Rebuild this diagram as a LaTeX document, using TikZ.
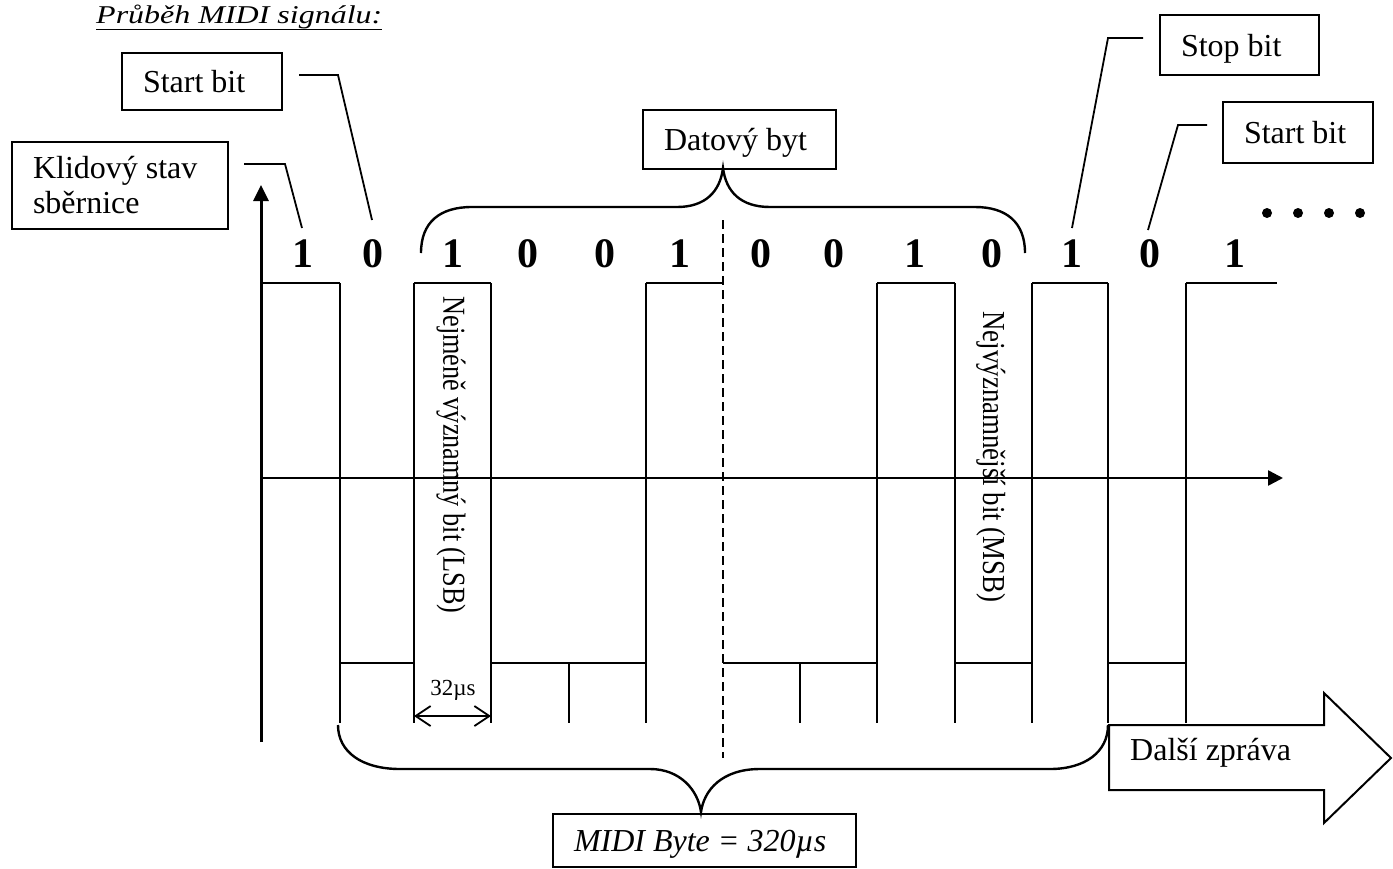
\documentclass[tikz,border=0pt]{standalone}
\usepackage{graphicx}
\usepackage{fontspec}
\setmainfont{Liberation Serif}
\usetikzlibrary{arrows.meta,calc}
\newcommand{\normsp}{\spaceskip=0pt\xspaceskip=0pt\relax}
\begin{document}
\begin{tikzpicture}[x=1pt,y=-1pt,
  lbl/.style={draw,line width=2pt,inner xsep=21pt,inner ysep=0pt,align=left,anchor=north west,font=\fontsize{32}{35}\selectfont},
  onel/.style={lbl,text height=22pt,text depth=0pt},
  sig/.style={line width=1.8pt},
  bitd/.style={font=\fontsize{42}{42}\selectfont\bfseries,anchor=base,inner sep=0pt},
  lead/.style={line width=1.8pt},
  brc/.style={line width=2.4pt},
  txt/.style={font=\fontsize{32}{35}\selectfont,inner sep=0pt},
]
\useasboundingbox (0,0) rectangle (1393,868);

% title
\node[txt,anchor=base west,font=\fontsize{32}{35}\selectfont\itshape] (title) at (96,23) {\scalebox{1}[0.8]{\underline{Průběh MIDI signálu:}}};

% label boxes
\node[lbl,text width=174pt,minimum height=87pt] (kl) at (11,141) {\normsp Klidový stav\\sběrnice};
\node[onel,text width=118pt,minimum height=57pt] (sbl) at (121,52) {\normsp Start bit};
\node[onel,text width=151pt,minimum height=59pt] (db) at (642,109) {\normsp Datový byt};
\node[onel,text width=117pt,minimum height=60pt] (stop) at (1159,14) {\normsp Stop bit};
\node[onel,text width=108pt,minimum height=61pt] (sbr) at (1222,101) {\normsp Start bit};
\node[onel,text width=261pt,minimum height=53pt,font=\fontsize{32}{35}\selectfont\itshape] (mb) at (552,813) {\normsp MIDI Byte = 320µs};

% bit digits
\foreach \x/\d [count=\i] in {303/1,373/0,453/1,528/0,605/0,680/1,761/0,834/0,915/1,992/0,1072/1,1150/0,1235/1}
  \node[bitd] (b\i) at (\x,267) {\d};

% dots
\foreach \x in {1267,1298,1329,1360} \fill (\x,213) circle (5pt);

% leaders
\coordinate (klend) at (302,228);
\coordinate (sblend) at (372,220);
\coordinate (stopend) at (1072,228);
\coordinate (sbrend) at (1148,230);
\draw[lead] ($(kl.north east)+(15,23)$) -- ++(41,0) -- (klend);
\draw[lead] ($(sbl.north east)+(16,23)$) -- ++(39,0) -- (sblend);
\draw[lead] ($(stop.north west)+(-16,24)$) -- ++(-35,0) -- (stopend);
\draw[lead] ($(sbr.north west)+(-15,24)$) -- ++(-29,0) -- (sbrend);

% axes
\draw[line width=3pt,-{Triangle[length=16pt,width=15pt]}] (261,742) -- (261,185);
\draw[line width=2.5pt,-{Triangle[length=15pt,width=15pt]}] (261,478) -- (1283,478);

% signal: high levels
\draw[sig] (262,283) -- (340,283);
\draw[sig] (414,283) -- (491,283);
\draw[sig] (646,283) -- (723,283);
\draw[sig] (877,283) -- (955,283);
\draw[sig] (1032,283) -- (1108,283);
\draw[sig] (1186,283) -- (1277,283);
% transitions
\foreach \x in {340,414,491,646,877,955,1032,1108,1186} \draw[sig] (\x,283) -- (\x,723);
\foreach \x in {569,800} \draw[sig] (\x,663) -- (\x,723);
% low levels
\draw[sig] (340,663) -- (414,663);
\draw[sig] (491,663) -- (646,663);
\draw[sig] (723,663) -- (877,663);
\draw[sig] (955,663) -- (1032,663);
\draw[sig] (1108,663) -- (1186,663);
% dashed divider
\draw[sig,dash pattern=on 9pt off 5pt] (723,220) -- (723,758);

% rotated texts
\node[txt,rotate=-90] (lsb) at (451,455) {\scalebox{0.82}[1]{Nejméně významný bit (LSB)}};
\node[txt,rotate=-90] (msb) at (991,457) {\scalebox{0.84}[1]{Nejvýznamnější bit (MSB)}};

% 32us
\draw[line width=1.8pt,{Straight Barb[length=15pt,width=20pt]}-{Straight Barb[length=15pt,width=20pt]}] (414,716) -- (491,716);
\node[anchor=base,inner sep=0pt,font=\fontsize{23}{25}\selectfont] (tus) at (453,695) {32µs};

% braces
\draw[brc] (421,253) .. controls (421,222) and (440,207) .. (472,207) -- (677,207)
  .. controls (705,207) and (720,192) .. (723,168)
  .. controls (726,192) and (741,207) .. (770,207) -- (975,207)
  .. controls (1006,207) and (1025,222) .. (1025,253);
\draw[brc] (338,725) .. controls (338,752) and (362,769) .. (400,769) -- (650,769)
  .. controls (680,769) and (698,790) .. (701,812)
  .. controls (704,790) and (722,769) .. (760,769) -- (1050,769)
  .. controls (1085,769) and (1108,752) .. (1108,725);

% next message arrow
\draw[line width=2pt,fill=white] (1109,725) -- (1324,725) -- (1324,693) -- (1391,758) -- (1324,823) -- (1324,790) -- (1109,790) -- cycle;
\node[txt,anchor=base west] (dz) at (1130,760) {Další zpráva};
\end{tikzpicture}
\end{document}
